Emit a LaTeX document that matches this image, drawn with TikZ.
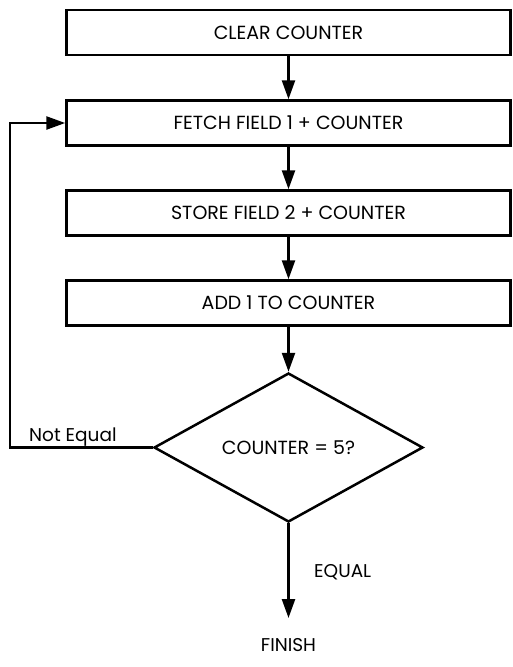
\documentclass[tikz,border=0pt]{standalone}
\usepackage{fontspec}
\setmainfont{Poppins}
\usetikzlibrary{arrows.meta,shapes.geometric}
\tikzset{
  stepbox/.style={draw, line width=2.5pt, minimum width=444pt, minimum height=45pt, inner sep=0pt, font=\fontsize{19}{22}\selectfont},
  testbox/.style={draw, diamond, line width=2.5pt, minimum width=269pt, minimum height=149pt, inner sep=0pt, font=\fontsize{19}{22}\selectfont},
  flow/.style={line width=2.5pt, -{Triangle[length=19pt,width=13pt]}},
  lbl/.style={font=\fontsize{18.5}{22}\selectfont, inner sep=0pt}
}
\begin{document}
\begin{tikzpicture}[x=1pt,y=-1pt]
			%%%%% START %%%%%
			\useasboundingbox (0, 0) rectangle (512, 667);
			
			\node[stepbox] (clear) at (288.5, 32.5) {CLEAR COUNTER};
			\node[stepbox] (fetch) at (288.5, 123) {FETCH FIELD 1 + COUNTER};
			\node[stepbox] (store) at (288.5, 213) {STORE FIELD 2 + COUNTER};
			\node[stepbox] (add) at (288.5, 303) {ADD 1 TO COUNTER};
			\node[testbox] (test) at (288.5, 447.5) {COUNTER = 5?};
			\node[lbl] (finish) at (288.5, 645) {FINISH};
			
			\coordinate (loopb) at (10, 447.5);
			\coordinate (loopt) at (10, 123);
			\coordinate (stop) at (288.5, 618);
			
			\draw[flow] (clear) -- (fetch);
			\draw[flow] (fetch) -- (store);
			\draw[flow] (store) -- (add);
			\draw[flow] (add) -- (test);
			\draw[flow] (test.west) -- (loopb) -- (loopt) -- (fetch.west);
			\draw[flow] (test.south) -- (stop);
			
			\node[lbl, anchor=base west] (neq) at (29, 441) {Not Equal};
			\node[lbl, anchor=base west] (eq) at (314, 577) {EQUAL};
			
			%%%%% END %%%%%
\end{tikzpicture}
\end{document}
